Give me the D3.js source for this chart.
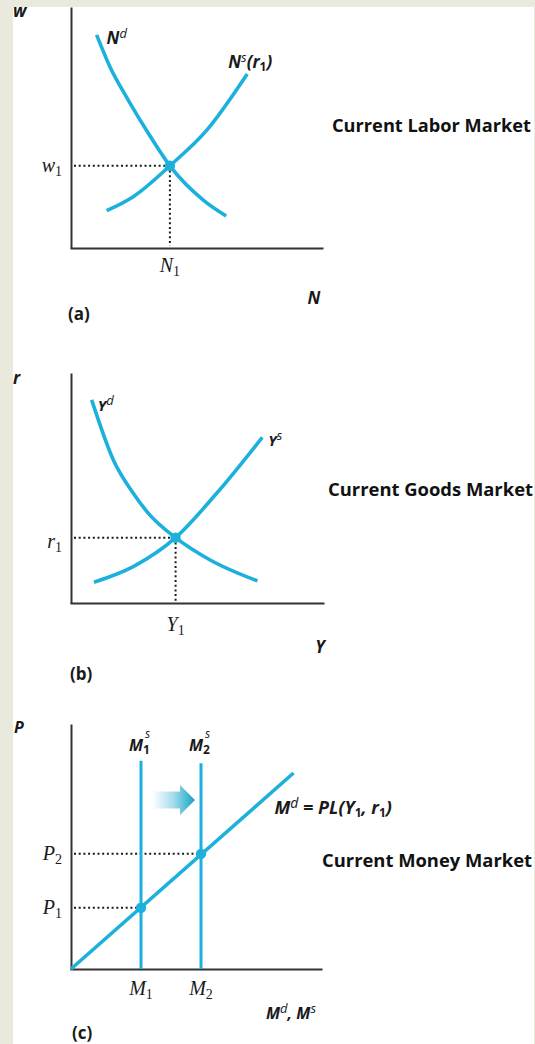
<!DOCTYPE html>
<html>
<head>
<meta charset="utf-8">
<script src="https://cdn.jsdelivr.net/npm/d3@7"></script>
<style>
  html, body { margin: 0; padding: 0; background: #e9e9dd; }
  svg { display: block; }
</style>
</head>
<body>
<svg id="chart" width="535" height="1044"></svg>
<script>
// ---- Panel (a): current labor market, employment N vs real wage w ----
const laborDemand = [[10.2, 88.4], [15.5, 75.2], [22.8, 61.4], [30.8, 47.6], [39.4, 34.1], [52.7, 19.9], [61.8, 13.3]];
const laborSupply = [[14.2, 15.5], [24.8, 21.3], [39.4, 34.1], [54.1, 48.9], [70.2, 72.2]];
const laborEquilibrium = { x: 39.4, y: 34.1 };

// ---- Panel (b): current goods market, output Y vs real interest rate r ----
const goodsDemand = [[8.2, 88.3], [16.8, 62.2], [24.7, 47.7], [30.7, 39], [41.5, 28.4], [55.2, 18.7], [74, 9.6]];
const goodsSupply = [[9.1, 9], [24.7, 15.8], [41.5, 28.4], [57.8, 47.7], [75.9, 72]];
const goodsEquilibrium = { x: 41.5, y: 28.4 };

// ---- Panel (c): current money market, money vs price level P ----
const moneyDemand = [[0, 0], [89, 80]];
const moneySupplyLevels = [28, 52];     // M1, M2
const moneySupplyTops = [85, 84];
const priceLevels = [25, 47];           // P1, P2
const shiftArrow = { from: 32.5, to: 49.6, y: 69 };

const blue = "#1cb0dc";
const ink = "#1a1a1a";
const axisColor = "#333";

const svg = d3.select("#chart");

// white page on the beige backdrop
svg.append("rect").attr("x", 13).attr("y", 7).attr("width", 521).attr("height", 1037).attr("fill", "#fff");

function makeScales(xRange, yRange) {
  return {
    x: d3.scaleLinear().domain([0, 100]).range(xRange),
    y: d3.scaleLinear().domain([0, 100]).range(yRange)
  };
}

function drawAxes(g, s) {
  g.append("g")
    .attr("transform", `translate(0,${s.y(0)})`)
    .call(d3.axisBottom(s.x).tickValues([]).tickSizeOuter(0))
    .call(a => a.select(".domain").attr("stroke", axisColor).attr("stroke-width", 2).attr("stroke-linecap", "square"));
  g.append("g")
    .attr("transform", `translate(${s.x(0)},0)`)
    .call(d3.axisLeft(s.y).tickValues([]).tickSizeOuter(0))
    .call(a => a.select(".domain").attr("stroke", axisColor).attr("stroke-width", 2));
}

function drawCurve(g, s, pts) {
  const line = d3.line().x(d => s.x(d[0])).y(d => s.y(d[1])).curve(d3.curveMonotoneX);
  g.append("path").datum(pts).attr("d", line)
    .attr("fill", "none").attr("stroke", blue).attr("stroke-width", 3.6).attr("stroke-linecap", "butt");
}

function dotted(g, x1, y1, x2, y2) {
  g.append("line").attr("x1", x1).attr("y1", y1).attr("x2", x2).attr("y2", y2)
    .attr("stroke", ink).attr("stroke-width", 2).attr("stroke-dasharray", "2,2.7");
}

function dot(g, x, y) {
  g.append("circle").attr("cx", x).attr("cy", y).attr("r", 5.2).attr("fill", blue);
}

// text made of styled runs (with super/subscripts)
function rich(g, x, y, parts, anchor) {
  const t = g.append("text").attr("x", x).attr("y", y).attr("text-anchor", anchor || "start").attr("fill", ink);
  let shift = 0;
  parts.forEach(p => {
    const ts = t.append("tspan").text(p.t);
    const target = p.dy || 0;
    if (target - shift !== 0) ts.attr("dy", target - shift);
    shift = target;
    ts.attr("font-family", p.font).attr("font-size", p.size)
      .attr("font-weight", p.weight || 400).attr("font-style", p.style || "normal");
  });
  return t;
}

const SANS = "'Open Sans', 'DejaVu Sans', sans-serif";
const SERIF = "'Liberation Serif', 'DejaVu Serif', serif";
const bi = (t, size) => ({ t, font: SANS, size: size || 17, weight: 700, style: "italic" });
const sup = (t, size) => ({ t, font: SANS, size: size || 13, weight: 400, style: "italic", dy: -6 });
const sansSub = t => ({ t, font: SANS, size: 12, weight: 700, style: "normal", dy: 3 });
const serif = t => ({ t, font: SERIF, size: 20, style: "italic" });
const serifSub = t => ({ t, font: SERIF, size: 14, style: "normal", dy: 4 });
const bold = t => ({ t, font: SANS, size: 17, weight: 700 });

function title(g, x, y, text, width) {
  g.append("text").attr("x", x).attr("y", y).attr("fill", "#111")
    .attr("font-family", SANS).attr("font-weight", 700).attr("font-size", 18)
    .attr("textLength", width).attr("lengthAdjust", "spacingAndGlyphs")
    .text(text);
}

// ================= Panel (a) =================
{
  const g = svg.append("g");
  const s = makeScales([71, 322], [248, 7]);
  drawAxes(g, s);
  const ex = s.x(laborEquilibrium.x), ey = s.y(laborEquilibrium.y);
  dotted(g, s.x(0) + 3, ey, ex, ey);
  dotted(g, ex, ey, ex, s.y(0) - 2);
  drawCurve(g, s, laborDemand);
  drawCurve(g, s, laborSupply);
  dot(g, ex, ey);

  rich(g, 13, 17, [bi("w")]);
  rich(g, 314, 304, [bi("N")], "middle");
  const d0 = laborDemand[0];
  rich(g, s.x(d0[0]) + 10, s.y(d0[1]) + 9, [bi("N"), sup("d")]);
  const sl = laborSupply[laborSupply.length - 1];
  rich(g, s.x(sl[0]) - 19, s.y(sl[1]) - 6, [bi("N"), sup("s"), { ...bi("(r"), dy: 0 }, sansSub("1"), { ...bi(")"), dy: 0 }]);
  rich(g, 62, ey + 6, [serif("w"), serifSub("1")], "end");
  rich(g, ex, s.y(0) + 24, [serif("N"), serifSub("1")], "middle");
  rich(g, 68, 320, [bold("(a)")]);
  title(g, 332, 132, "Current Labor Market", 199);
}

// ================= Panel (b) =================
{
  const g = svg.append("g");
  const s = makeScales([71, 323], [603, 373]);
  drawAxes(g, s);
  const ex = s.x(goodsEquilibrium.x), ey = s.y(goodsEquilibrium.y);
  dotted(g, s.x(0) + 3, ey, ex, ey);
  dotted(g, ex, ey, ex, s.y(0) - 2);
  drawCurve(g, s, goodsDemand);
  drawCurve(g, s, goodsSupply);
  dot(g, ex, ey);

  rich(g, 13, 384, [bi("r")]);
  rich(g, 320, 653, [bi("Y")], "middle");
  const d0 = goodsDemand[0];
  rich(g, s.x(d0[0]) + 6, s.y(d0[1]) + 11, [bi("Y", 15), sup("d", 13)]);
  const sl = goodsSupply[goodsSupply.length - 1];
  rich(g, s.x(sl[0]) + 6, s.y(sl[1]) + 9, [bi("Y", 15), sup("s", 13)]);
  rich(g, 62, ey + 10, [serif("r"), serifSub("1")], "end");
  rich(g, ex, s.y(0) + 28, [serif("Y"), serifSub("1")], "middle");
  rich(g, 70, 680, [bold("(b)")]);
  title(g, 328, 496, "Current Goods Market", 205);
}

// ================= Panel (c) =================
{
  const g = svg.append("g");
  const s = makeScales([71, 321], [969, 724]);
  drawAxes(g, s);

  // shift arrow from M1s toward M2s
  const defs = svg.append("defs");
  const ax1 = s.x(shiftArrow.from), ax2 = s.x(shiftArrow.to), ay = s.y(shiftArrow.y);
  const grad = defs.append("linearGradient").attr("id", "shiftGrad")
    .attr("gradientUnits", "userSpaceOnUse").attr("x1", ax1).attr("x2", ax2).attr("y1", 0).attr("y2", 0);
  grad.append("stop").attr("offset", 0).attr("stop-color", "#ffffff");
  grad.append("stop").attr("offset", 0.5).attr("stop-color", "#a3dcec");
  grad.append("stop").attr("offset", 1).attr("stop-color", "#15a2c4");
  const headLen = 15;
  g.append("path")
    .attr("d", `M${ax1},${ay - 8.5}H${ax2 - headLen}V${ay - 15}L${ax2},${ay}L${ax2 - headLen},${ay + 15}V${ay + 8.5}H${ax1}Z`)
    .attr("fill", "url(#shiftGrad)");

  priceLevels.forEach((p, i) => {
    dotted(g, s.x(0) + 3, s.y(p), s.x(moneySupplyLevels[i]), s.y(p));
  });
  moneySupplyLevels.forEach((m, i) => {
    g.append("line").attr("x1", s.x(m)).attr("x2", s.x(m))
      .attr("y1", s.y(0)).attr("y2", s.y(moneySupplyTops[i]))
      .attr("stroke", blue).attr("stroke-width", 3);
  });
  drawCurve(g, s, moneyDemand);
  priceLevels.forEach((p, i) => dot(g, s.x(moneySupplyLevels[i]), s.y(p)));

  rich(g, 14, 733, [bi("P", 16)]);
  rich(g, 291, 1019, [bi("M", 16), sup("d", 13), { ...bi(", M", 16), dy: 0 }, sup("s", 13)], "middle");

  // stacked scripts on the supply labels
  moneySupplyLevels.forEach((m, i) => {
    const x = s.x(m) + 2;
    g.append("text").attr("x", x).attr("y", 751).attr("text-anchor", "end").attr("fill", ink)
      .attr("font-family", SANS).attr("font-weight", 700).attr("font-style", "italic").attr("font-size", 16).text("M");
    g.append("text").attr("x", x + 2).attr("y", 738).attr("fill", ink)
      .attr("font-family", SANS).attr("font-style", "italic").attr("font-size", 12).text("s");
    g.append("text").attr("x", x).attr("y", 754).attr("fill", ink)
      .attr("font-family", SANS).attr("font-weight", 700).attr("font-size", 12).text(String(i + 1));
    rich(g, s.x(m), s.y(0) + 26, [serif("M"), serifSub(String(i + 1))], "middle");
    rich(g, 62, s.y(priceLevels[i]) + 6, [serif("P"), serifSub(String(i + 1))], "end");
  });

  const md = moneyDemand[moneyDemand.length - 1];
  rich(g, s.x(md[0]) - 19, s.y(md[1]) + 41,
    [bi("M", 18), sup("d", 14), { ...bi(" = PL(Y", 18), dy: 0 }, sansSub("1"), { ...bi(", r", 18), dy: 0 }, sansSub("1"), { ...bi(")", 18), dy: 0 }]);
  rich(g, 72, 1039, [bold("(c)")]);
  title(g, 322, 867, "Current Money Market", 210);
}
</script>
</body>
</html>
